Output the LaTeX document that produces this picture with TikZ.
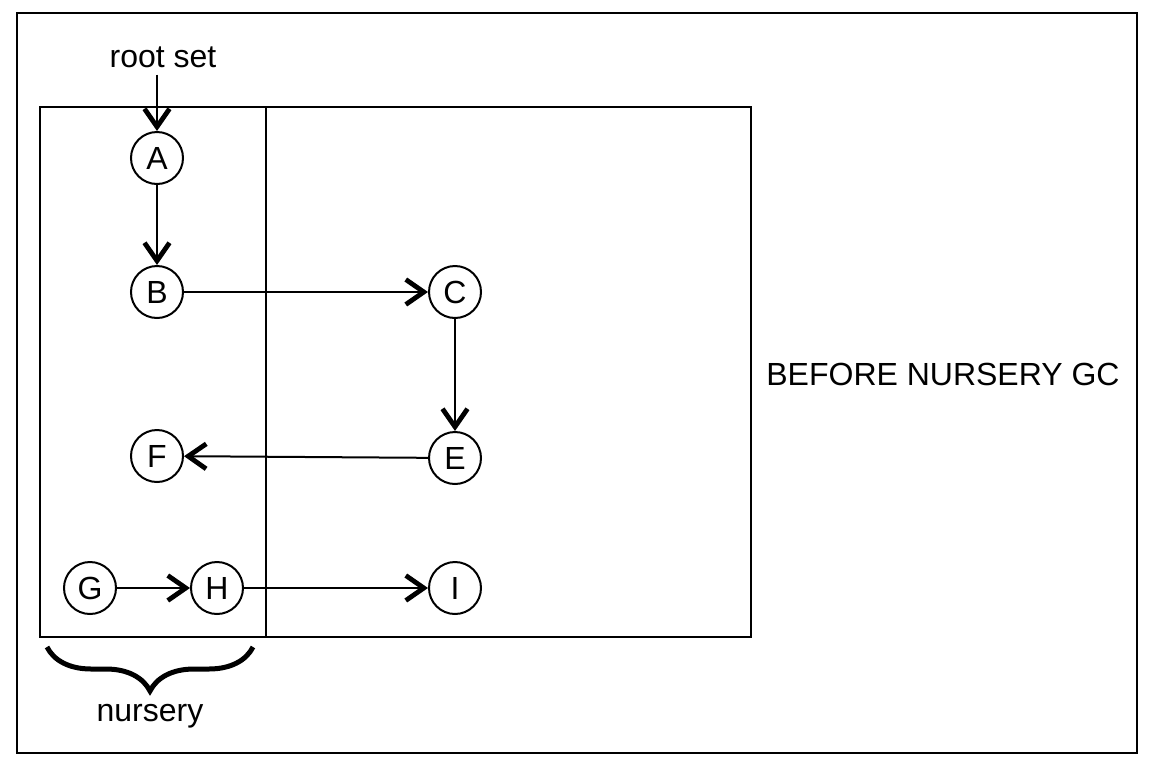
\documentclass[tikz,border=0pt]{standalone}
\usepackage{fontspec}
\setmainfont{Liberation Sans}
\usetikzlibrary{arrows.meta,decorations.pathreplacing}

\tikzset{
	obj/.style={draw, circle, line width=1pt, minimum size=26pt, inner sep=0pt},
	ref/.style={line width=1pt, -{Straight Barb[length=9pt,width=12.5pt,line width=2.4pt 0]}},
}

\begin{document}
\begin{tikzpicture}[x=0.5pt, y=-0.5pt, font=\fontsize{16}{19}\selectfont]
	\useasboundingbox (0,0) rectangle (1152,772);

	\draw[line width=1.2pt] (17,13) rectangle (1137,753);
	\draw[line width=1pt] (40,107) rectangle (751,637);
	\draw[line width=1pt] (266,107) -- (266,637);

	\node[obj] (A) at (157,158) {A};
	\node[obj] (B) at (157,292) {B};
	\node[obj] (C) at (455,292) {C};
	\node[obj] (E) at (455,458) {E};
	\node[obj] (F) at (157,456) {F};
	\node[obj] (G) at (90,588) {G};
	\node[obj] (H) at (217,588) {H};
	\node[obj] (I) at (455,588) {I};

	\node (root) at (163,57) {root set};
	\node (nurs) at (150,716) {nursery};
	\node (title) at (943,374) {BEFORE NURSERY GC};

	\draw[ref] (A |- root.south) -- (A);
	\draw[ref] (A) -- (B);
	\draw[ref] (B) -- (C);
	\draw[ref] (C) -- (E);
	\draw[ref] (E) -- (F);
	\draw[ref] (G) -- (H);
	\draw[ref] (H) -- (I);

	\draw[line width=2.5pt, decorate, decoration={brace, mirror, amplitude=22pt}] (47,647) -- (253,647);

\end{tikzpicture}
\end{document}
